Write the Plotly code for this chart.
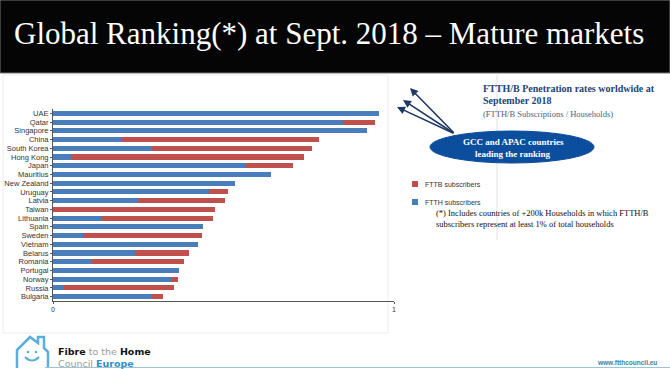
import plotly.graph_objects as go

# ---------------- data ----------------
countries = ["UAE", "Qatar", "Singapore", "China", "South Korea", "Hong Kong", "Japan",
             "Mauritius", "New Zealand", "Uruguay", "Latvia", "Taiwan", "Lithuania", "Spain",
             "Sweden", "Vietnam", "Belarus", "Romania", "Portugal", "Norway", "Russia", "Bulgaria"]
ftth = [0.957, 0.851, 0.920, 0.201, 0.289, 0.053, 0.563,
        0.638, 0.534, 0.458, 0.250, 0.000, 0.140, 0.441,
        0.087, 0.424, 0.240, 0.115, 0.370, 0.345, 0.032, 0.289]
fttb = [0.000, 0.094, 0.000, 0.578, 0.471, 0.684, 0.140,
        0.000, 0.000, 0.054, 0.254, 0.475, 0.329, 0.000,
        0.349, 0.000, 0.160, 0.268, 0.000, 0.022, 0.322, 0.034]
x_ticks = [0, 1]
x_ticklabels = ["0", "1"]

title_text = "Global Ranking(*) at Sept. 2018 \u2013 Mature markets"

W, H = 670, 369
L, R, T, B = 53, 394, 109, 301   # plot area in pixels


def px(x):
    return (x - L) / (R - L)


def py(y):
    return (B - y) / (B - T)


BLUE = "#4a7ebb"
RED = "#c0504d"

fig = go.Figure()
fig.add_trace(go.Bar(y=countries, x=ftth, orientation="h", name="FTTH subscribers",
                     marker=dict(color=BLUE, line=dict(width=0))))
fig.add_trace(go.Bar(y=countries, x=fttb, orientation="h", name="FTTB subscribers",
                     marker=dict(color=RED, line=dict(width=0))))

shapes = []
annotations = []

# faint chart-image frame and artifact line
shapes.append(dict(type="rect", xref="paper", yref="paper", x0=px(3), x1=px(388), y0=py(333), y1=py(75),
                   line=dict(color="#ececec", width=1), fillcolor="rgba(0,0,0,0)", layer="below"))
shapes.append(dict(type="line", xref="paper", yref="paper", x0=px(497), x1=px(497), y0=py(240), y1=py(75),
                   line=dict(color="#e2e2e2", width=1)))

# black title band
shapes.append(dict(type="rect", xref="paper", yref="paper", x0=px(0), x1=px(670), y0=py(73), y1=py(0),
                   line=dict(color="#777777", width=1), fillcolor="#050505"))
annotations.append(dict(xref="paper", yref="paper", x=px(12), y=py(33), xanchor="left", yanchor="middle",
                        text=title_text, showarrow=False,
                        font=dict(family="Liberation Serif", size=31, color="white")))

# right-hand texts
annotations.append(dict(xref="paper", yref="paper", x=px(481), y=py(89), xanchor="left", yanchor="middle",
                        showarrow=False, text="<b>FTTH/B Penetration rates worldwide at</b>",
                        font=dict(family="Liberation Serif", size=10, color="#24427a")))
annotations.append(dict(xref="paper", yref="paper", x=px(481), y=py(101), xanchor="left", yanchor="middle",
                        showarrow=False, text="<b>September 2018</b>",
                        font=dict(family="Liberation Serif", size=10, color="#24427a")))
annotations.append(dict(xref="paper", yref="paper", x=px(481), y=py(114), xanchor="left", yanchor="middle",
                        showarrow=False, text="(FTTH/B Subscriptions / Households)",
                        font=dict(family="Liberation Serif", size=8.5, color="#4d5f7f")))

# ellipse
shapes.append(dict(type="circle", xref="paper", yref="paper", x0=px(430), x1=px(594), y0=py(163), y1=py(131),
                   line=dict(color="#0c4c9a", width=1), fillcolor="#0c4e9e"))
annotations.append(dict(xref="paper", yref="paper", x=px(513), y=py(142), xanchor="center", yanchor="middle",
                        showarrow=False, text="<b>GCC and APAC countries</b>",
                        font=dict(family="Liberation Serif", size=9, color="white")))
annotations.append(dict(xref="paper", yref="paper", x=px(513), y=py(154), xanchor="center", yanchor="middle",
                        showarrow=False, text="<b>leading the ranking</b>",
                        font=dict(family="Liberation Serif", size=9, color="white")))

# arrows
for hx, hy in [(410, 88), (403, 100), (397, 107)]:
    annotations.append(dict(xref="paper", yref="paper", x=px(hx), y=py(hy), ax=455 - hx, ay=134 - hy,
                            text="", showarrow=True, arrowhead=2, arrowsize=1, arrowwidth=1.6,
                            arrowcolor="#1f3864"))

# manual legend
for yy, col, lab in [(184, RED, "FTTB subscribers"), (202, BLUE, "FTTH subscribers")]:
    shapes.append(dict(type="rect", xref="paper", yref="paper", x0=px(412), x1=px(418), y0=py(yy + 3), y1=py(yy - 3),
                       line=dict(width=0), fillcolor=col))
    annotations.append(dict(xref="paper", yref="paper", x=px(423), y=py(yy), xanchor="left", yanchor="middle",
                            showarrow=False, text=lab,
                            font=dict(family="Liberation Sans", size=7, color="#333333")))

# note
annotations.append(dict(xref="paper", yref="paper", x=px(434), y=py(213), xanchor="left", yanchor="middle",
                        showarrow=False, text="(*) Includes countries of +200k Households in which FTTH/B",
                        font=dict(family="Liberation Serif", size=8.5, color="#111111")))
annotations.append(dict(xref="paper", yref="paper", x=px(434), y=py(223.5), xanchor="left", yanchor="middle",
                        showarrow=False, text="subscribers represent at least 1% of total households",
                        font=dict(family="Liberation Serif", size=8.5, color="#111111")))

# footer logo (house outline + smiley)
LOGO = "#5aaedb"
pts = [(17, 368), (17, 350), (30, 337), (38, 343), (38, 337), (44, 337), (44, 348), (48, 352), (48, 368)]
path = "M " + " L ".join(f"{px(a):.5f},{py(b):.5f}" for a, b in pts)
shapes.append(dict(type="path", xref="paper", yref="paper", path=path, line=dict(color=LOGO, width=2.5)))
for cx in (28, 36):
    shapes.append(dict(type="circle", xref="paper", yref="paper", x0=px(cx - 1.3), x1=px(cx + 1.3),
                       y0=py(353.3), y1=py(350.7), line=dict(width=0), fillcolor=LOGO))
smile = f"M {px(25):.5f},{py(357):.5f} Q {px(32):.5f},{py(364):.5f} {px(39):.5f},{py(357):.5f}"
shapes.append(dict(type="path", xref="paper", yref="paper", path=smile, line=dict(color=LOGO, width=2)))

annotations.append(dict(xref="paper", yref="paper", x=px(56), y=py(357), xanchor="left", yanchor="middle",
                        align="left", showarrow=False,
                        text="<b>Fibre</b> <span style='color:#9a9a9a'>to the</span> <b>Home</b><br>"
                             "<span style='color:#9a9a9a'>Council</span> <b><span style='color:#2f8fc8'>Europe</span></b>",
                        font=dict(family="DejaVu Sans", size=9.5, color="#111111")))
annotations.append(dict(xref="paper", yref="paper", x=px(659), y=py(362), xanchor="right", yanchor="middle",
                        showarrow=False, text="<b>www.ftthcouncil.eu</b>",
                        font=dict(family="Liberation Sans", size=6.5, color="#3f7f9c")))
shapes.append(dict(type="line", xref="paper", yref="paper", x0=px(45), x1=px(670), y0=py(367.5), y1=py(367.5),
                   line=dict(color="#9cc6d8", width=1)))

fig.update_layout(
    width=W, height=H,
    margin=dict(l=L, r=W - R, t=T, b=H - B, pad=0, autoexpand=False),
    paper_bgcolor="white", plot_bgcolor="white",
    barmode="stack", bargap=0.42, showlegend=False,
    shapes=shapes, annotations=annotations,
    xaxis=dict(range=[0, 1], tickvals=x_ticks, ticktext=x_ticklabels, showgrid=False, zeroline=False,
               automargin=False,
               showline=True, linecolor="#555555", linewidth=1, ticks="outside", ticklen=2,
               tickcolor="#555555", tickfont=dict(family="Liberation Sans", size=7, color="#333333")),
    yaxis=dict(categoryorder="array", categoryarray=countries, autorange="reversed",
               tickmode="array", tickvals=countries, ticktext=countries, automargin=False,
               showgrid=False, zeroline=False, showline=True, linecolor="#555555", linewidth=1,
               ticks="outside", ticklen=2, tickcolor="#555555",
               tickfont=dict(family="Liberation Sans", size=7.5, color="#333333")),
)

fig.write_html("out.html", config={"displayModeBar": False},
               post_script="document.body.style.margin='0';document.body.style.overflow='hidden';")
